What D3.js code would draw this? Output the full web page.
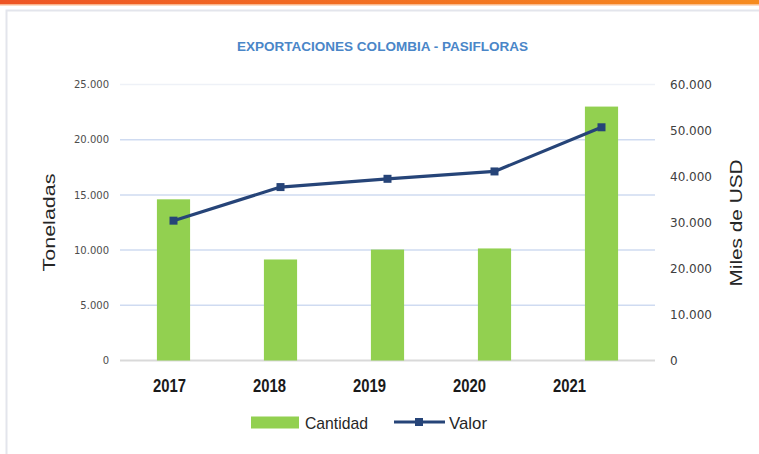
<!DOCTYPE html>
<html>
<head>
<meta charset="utf-8">
<script src="https://cdn.jsdelivr.net/npm/d3@7"></script>
<style>
  body { margin: 0; background: #fff; }
  svg { display: block; font-family: "Liberation Sans", Arial, sans-serif; }
</style>
</head>
<body>
<div class="chart"></div>
<script>
// data
const years = ["2017", "2018", "2019", "2020", "2021"]
const cantidad = [14600, 9150, 10050, 10150, 23000]   // Toneladas (bars)
const valor = [30400, 37700, 39500, 41100, 50700]     // Miles de USD (line)
const leftTicks = [0, 5000, 10000, 15000, 20000, 25000]
const rightTicks = [0, 10000, 20000, 30000, 40000, 50000, 60000]

const W = 759, H = 454
const plot = {left: 120, right: 655, top: 84.5, bottom: 360.5}

const fmt = d => d === 0 ? "0" : d3.format(",")(d).replace(/,/g, ".")

const svg = d3.select(".chart").append("svg")
    .attr("width", W)
    .attr("height", H)

// orange top strip
const grad = svg.append("defs").append("linearGradient")
    .attr("id", "topbar")
grad.append("stop").attr("offset", "0%").attr("stop-color", "#ee5524")
grad.append("stop").attr("offset", "100%").attr("stop-color", "#f68b1f")
svg.append("rect").attr("x", 0).attr("y", 0).attr("width", W).attr("height", 4.5)
    .attr("fill", "url(#topbar)")
svg.append("rect").attr("x", 0).attr("y", 4.5).attr("width", W).attr("height", 1)
    .attr("fill", "#f9b98a")

// light frame
svg.append("path")
    .attr("d", `M6.5,${H} V10.5 H${W}`)
    .attr("fill", "none")
    .attr("stroke", "#e3e5ec")
    .attr("stroke-width", 2)

// scales
const x = d3.scaleBand()
    .domain(years)
    .range([plot.left, plot.right])
    .paddingInner(0.69)
    .paddingOuter(0.345)

// year labels sit a little narrower than the bars in the picture
const xLabel = d3.scalePoint()
    .domain(years)
    .range([169, 569])

const yL = d3.scaleLinear().domain([0, 25000]).range([plot.bottom, plot.top])
const yR = d3.scaleLinear().domain([0, 60000]).range([plot.bottom, plot.top])

// gridlines
svg.append("g")
    .selectAll("line")
    .data(leftTicks.filter(d => d > 0))
    .join("line")
    .attr("x1", plot.left)
    .attr("x2", plot.right)
    .attr("y1", d => yL(d))
    .attr("y2", d => yL(d))
    .attr("stroke", d => d === 25000 ? "#eef1f7" : "#cfdbf1")
    .attr("stroke-width", 1.5)

// baseline
svg.append("line")
    .attr("x1", plot.left).attr("x2", plot.right)
    .attr("y1", plot.bottom).attr("y2", plot.bottom)
    .attr("stroke", "#d9d9d9")
    .attr("stroke-width", 2)

// left axis
const leftAxis = svg.append("g")
    .attr("transform", "translate(109,0)")
    .call(d3.axisLeft(yL).tickValues(leftTicks).tickFormat(fmt).tickSize(0).tickPadding(0))
leftAxis.select(".domain").remove()
leftAxis.selectAll("text")
    .attr("font-family", "DejaVu Sans, sans-serif")
    .attr("font-size", 10)
    .attr("fill", "#4d4d4d")

// right axis
const rightAxis = svg.append("g")
    .attr("transform", "translate(670,0)")
    .call(d3.axisRight(yR).tickValues(rightTicks).tickFormat(fmt).tickSize(0).tickPadding(0))
rightAxis.select(".domain").remove()
rightAxis.selectAll("text")
    .attr("font-family", "DejaVu Sans, sans-serif")
    .attr("font-size", 12)
    .attr("fill", "#404040")

// bottom axis (year labels)
const bottomAxis = svg.append("g")
    .attr("transform", "translate(0,379)")
    .call(d3.axisBottom(xLabel).tickSize(0).tickPadding(0))
bottomAxis.select(".domain").remove()
bottomAxis.selectAll("text")
    .attr("font-size", 18)
    .attr("font-weight", "bold")
    .attr("fill", "#1a1a1a")
    .attr("textLength", 33)
    .attr("lengthAdjust", "spacingAndGlyphs")

// bars
svg.append("g")
    .selectAll("rect")
    .data(years.map((y, i) => ({year: y, value: cantidad[i]})))
    .join("rect")
    .attr("x", d => x(d.year))
    .attr("width", x.bandwidth())
    .attr("y", d => yL(d.value))
    .attr("height", d => yL(0) - yL(d.value))
    .attr("fill", "#92d050")

// line
const pts = years.map((y, i) => ({year: y, value: valor[i]}))
const line = d3.line()
    .x(d => x(d.year) + x.bandwidth() / 2)
    .y(d => yR(d.value))
svg.append("path")
    .datum(pts)
    .attr("d", line)
    .attr("fill", "none")
    .attr("stroke", "#264478")
    .attr("stroke-width", 3.2)
    .attr("stroke-linejoin", "round")
svg.append("g")
    .selectAll("rect")
    .data(pts)
    .join("rect")
    .attr("x", d => x(d.year) + x.bandwidth() / 2 - 4)
    .attr("y", d => yR(d.value) - 4)
    .attr("width", 8)
    .attr("height", 8)
    .attr("fill", "#264478")

// title
svg.append("text")
    .attr("x", 382.5)
    .attr("y", 50.5)
    .attr("text-anchor", "middle")
    .attr("font-size", 12)
    .attr("font-weight", "bold")
    .attr("fill", "#4a86c8")
    .attr("textLength", 291)
    .attr("lengthAdjust", "spacingAndGlyphs")
    .text("EXPORTACIONES COLOMBIA - PASIFLORAS")

// axis titles
svg.append("text")
    .attr("transform", "translate(55,222.5) rotate(-90)")
    .attr("text-anchor", "middle")
    .attr("font-size", 17)
    .attr("fill", "#262626")
    .attr("textLength", 98)
    .attr("lengthAdjust", "spacingAndGlyphs")
    .text("Toneladas")

svg.append("text")
    .attr("transform", "translate(742,223) rotate(-90)")
    .attr("text-anchor", "middle")
    .attr("font-size", 17)
    .attr("fill", "#262626")
    .attr("textLength", 127)
    .attr("lengthAdjust", "spacingAndGlyphs")
    .text("Miles de USD")

// legend
const legend = svg.append("g")
legend.append("rect")
    .attr("x", 251).attr("y", 416.5)
    .attr("width", 48).attr("height", 12)
    .attr("fill", "#92d050")
legend.append("text")
    .attr("x", 305).attr("y", 429)
    .attr("font-size", 17)
    .attr("fill", "#262626")
    .attr("textLength", 63)
    .attr("lengthAdjust", "spacingAndGlyphs")
    .text("Cantidad")
legend.append("line")
    .attr("x1", 394).attr("x2", 445)
    .attr("y1", 422).attr("y2", 422)
    .attr("stroke", "#264478")
    .attr("stroke-width", 3.2)
legend.append("rect")
    .attr("x", 415).attr("y", 418)
    .attr("width", 8).attr("height", 8)
    .attr("fill", "#264478")
legend.append("text")
    .attr("x", 449).attr("y", 429)
    .attr("font-size", 17)
    .attr("fill", "#262626")
    .attr("textLength", 38)
    .attr("lengthAdjust", "spacingAndGlyphs")
    .text("Valor")
</script>
</body>
</html>
